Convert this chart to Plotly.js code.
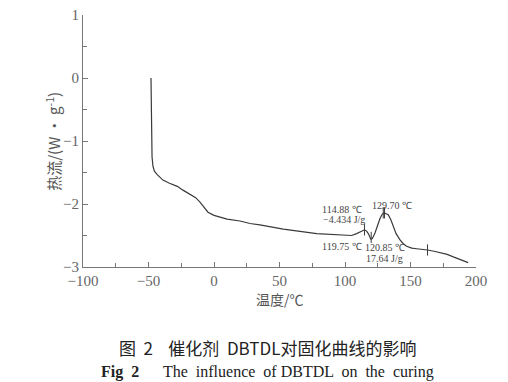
<!DOCTYPE html>
<html><head><meta charset="utf-8">
<script src="https://cdn.plot.ly/plotly-3.0.1.min.js"></script>
<style>body{margin:0;background:#fff}#c{width:508px;height:382px}</style>
</head><body><div id="c"></div>
<script>
const temperature = [-48.1,-48.0,-47.7,-47.3,-46.6,-45.5,-43.5,-41,-39,-34,-28,-23.7,-18,-14,-10.7,-7,-4.6,0,4.6,10,19.8,27.5,35,52.9,78.4,98.7,105,108.9,112,114.9,116.5,117.8,119.75,120.85,122.9,125,126.7,128.5,129.7,131,133,135,136.8,139,142,144.5,147,151,154.7,160,163,168,172.5,178,182.7,188,194];
const heatFlow = [0,-0.5,-1.0,-1.25,-1.4,-1.48,-1.53,-1.58,-1.62,-1.67,-1.72,-1.78,-1.85,-1.9,-1.97,-2.07,-2.13,-2.18,-2.21,-2.24,-2.27,-2.31,-2.33,-2.4,-2.47,-2.5,-2.5,-2.47,-2.44,-2.41,-2.43,-2.47,-2.56,-2.55,-2.46,-2.33,-2.23,-2.16,-2.14,-2.15,-2.17,-2.25,-2.36,-2.47,-2.57,-2.63,-2.67,-2.7,-2.71,-2.72,-2.73,-2.75,-2.77,-2.8,-2.84,-2.88,-2.93];
const markTemps = [114.88,120.0,129.2,130.2,163];
const markFlows = [-2.41,-2.53,-2.14,-2.14,-2.73];
const xTicks = [-100,-50,0,50,100,150,200];
const xTickText = ['\u2212100','\u221250','0','50','100','150','200'];
const yTicks = [1,0,-1,-2,-3];
const yTickText = ['1','0','\u22121','\u22122','\u22123'];
const notes = [
  {x:98, y:-2.09, t:'114.88 \u2103'},
  {x:99, y:-2.25, t:'\u22124.434 J/g'},
  {x:136, y:-2.02, t:'129.70 \u2103'},
  {x:97.7, y:-2.67, t:'119.75 \u2103'},
  {x:130.5, y:-2.69, t:'120.85 \u2103'},
  {x:130.5, y:-2.86, t:'17.64 J/g'}
];
const serif = 'Liberation Serif, Times New Roman, serif';
const traces = [
  {x: temperature, y: heatFlow, mode:'lines', line:{color:'#3a3a3a', width:1.2}, hoverinfo:'skip'},
  {x: markTemps, y: markFlows, mode:'markers', marker:{symbol:'line-ns-open', size:8, color:'#3a3a3a', line:{color:'#3a3a3a', width:1}}, hoverinfo:'skip'}
];
const ann = notes.map(n => ({x:n.x, y:n.y, text:n.t, showarrow:false, xref:'x', yref:'y', yanchor:'middle', font:{family:serif, size:10, color:'#444'}}));
ann.push({xref:'paper', yref:'paper', x:0.5, y:-0.125, yanchor:'middle', text:'温度/\u2103', showarrow:false, font:{family:'Noto Sans CJK SC', size:14, color:'#555'}});
ann.push({xref:'paper', yref:'paper', x:-0.11, y:0.5, yanchor:'middle', textangle:-90, text:'热流/(W · g<sup>-1</sup>)', showarrow:false, font:{family:'Noto Sans CJK SC, '+serif, size:15, color:'#555'}});
ann.push({xref:'paper', yref:'paper', x:0.47, y:-0.321, yanchor:'middle', text:'图  2    催化剂  DBTDL对固化曲线的影响', showarrow:false, font:{family:'Noto Sans CJK SC', size:17, color:'#222'}});
ann.push({xref:'paper', yref:'paper', x:0.47, y:-0.417, yanchor:'middle', text:'<b>Fig  2</b>      The  influence  of DBTDL  on  the  curing', showarrow:false, font:{family:serif, size:16, color:'#222'}});
const layout = {
  width:508, height:382, margin:{l:83, r:32, t:15, b:115},
  paper_bgcolor:'#fff', plot_bgcolor:'#fff', showlegend:false,
  xaxis:{range:[-100,200], tickvals:xTicks, ticktext:xTickText, ticks:'inside', ticklen:5, tickcolor:'#777',
    showline:true, linecolor:'#777', linewidth:1, showgrid:false, zeroline:false,
    minor:{dtick:25, ticks:'inside', ticklen:4, tickcolor:'#777'},
    tickfont:{family:serif, size:15, color:'#666'}},
  yaxis:{range:[-3,1], tickvals:yTicks, ticktext:yTickText, ticks:'inside', ticklen:5, tickcolor:'#777',
    showline:true, linecolor:'#777', linewidth:1, showgrid:false, zeroline:false,
    minor:{dtick:0.5, ticks:'inside', ticklen:4, tickcolor:'#777'},
    tickfont:{family:serif, size:15, color:'#666'}},
  annotations: ann
};
Plotly.newPlot('c', traces, layout, {staticPlot:true});
</script></body></html>
